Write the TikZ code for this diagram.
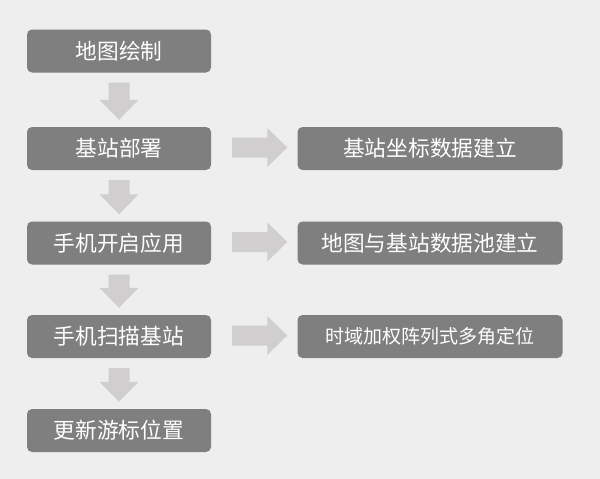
\documentclass[tikz,border=0pt]{standalone}
\usepackage{fontspec}
\setmainfont{Noto Sans CJK SC}
\usetikzlibrary{calc}
\definecolor{bgcol}{HTML}{EEEEEE}
\definecolor{boxcol}{HTML}{7F7F7F}
\definecolor{arrcol}{HTML}{D0CECE}
\newcommand{\blkdown}[2]{\fill[arrcol] let \p1=(#1.south), \p2=(#2.north) in
  (\x1-10.5pt,\y1-10pt) -- (\x1+10.5pt,\y1-10pt) -- (\x1+10.5pt,\y2+27pt) -- (\x1+19.5pt,\y2+27pt)
  -- (\x1,\y2+7pt) -- (\x1-19.5pt,\y2+27pt) -- (\x1-10.5pt,\y2+27pt) -- cycle;}
\newcommand{\blkright}[2]{\fill[arrcol] let \p1=(#1.east), \p2=(#2.west) in
  (\x1+21pt,\y1+11pt) -- (\x2-30pt,\y1+11pt) -- (\x2-30pt,\y1+20.5pt) -- (\x2-10pt,\y1+1pt)
  -- (\x2-30pt,\y1-18.5pt) -- (\x2-30pt,\y1-9pt) -- (\x1+21pt,\y1-9pt) -- cycle;}
\begin{document}
\begin{tikzpicture}[x=1pt,y=-1pt,
  stepbox/.style={fill=boxcol, rounded corners=5pt, text=white, inner sep=0pt,
    font=\fontsize{21.7}{22}\selectfont, minimum height=43pt},
  leftbox/.style={stepbox, minimum width=184pt},
  rightbox/.style={stepbox, minimum width=265pt}]
\fill[bgcol] (0,0) rectangle (600,479);
\useasboundingbox (0,0) rectangle (600,479);
\node[leftbox] (a) at (119,51) {地图绘制};
\node[leftbox] (b) at (119,148.5) {基站部署};
\node[leftbox] (c) at (119,243) {手机开启应用};
\node[leftbox] (d) at (119,336.5) {手机扫描基站};
\node[leftbox] (e) at (119,430.5) {更新游标位置};
\node[rightbox] (r1) at (430,148.5) {基站坐标数据建立};
\node[rightbox] (r2) at (430,243) {地图与基站数据池建立};
\node[rightbox, font=\fontsize{19}{19}\selectfont] (r3) at (430,336.5) {时域加权阵列式多角定位};
\blkdown{a}{b}
\blkdown{b}{c}
\blkdown{c}{d}
\blkdown{d}{e}
\blkright{b}{r1}
\blkright{c}{r2}
\blkright{d}{r3}
\end{tikzpicture}
\end{document}
